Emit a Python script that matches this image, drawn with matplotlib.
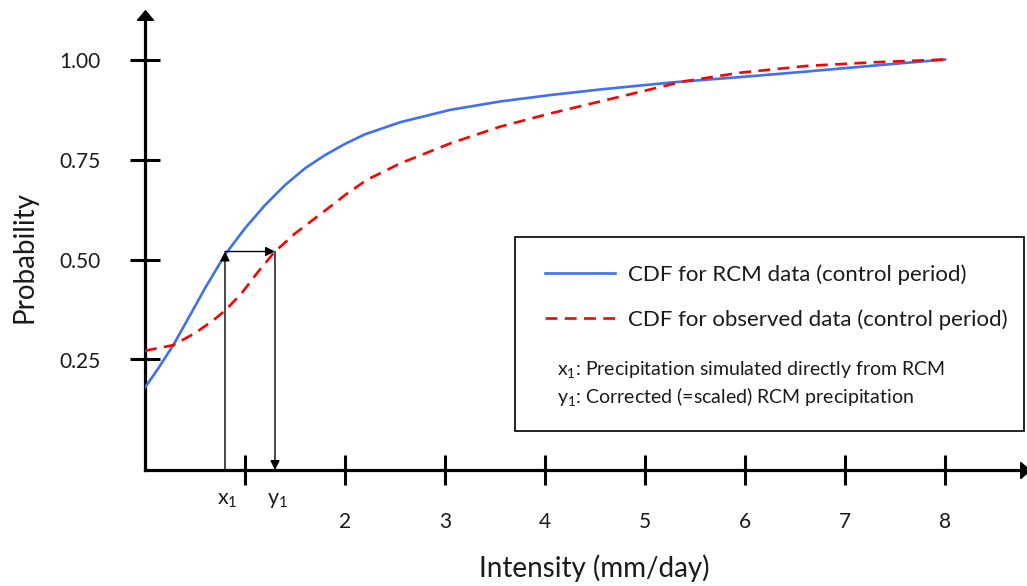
import matplotlib
matplotlib.use("Agg")
import matplotlib.pyplot as plt
from matplotlib.patches import Rectangle
from matplotlib.transforms import blended_transform_factory

plt.rcParams['font.family'] = ['Lato', 'DejaVu Sans']
plt.rcParams['mathtext.fontset'] = 'custom'
plt.rcParams['mathtext.rm'] = 'Lato'
plt.rcParams['mathtext.it'] = 'Lato:italic'
plt.rcParams['mathtext.bf'] = 'Lato:bold'

# ---- data ----
rcm_x = [0.0, 0.133, 0.283, 0.433, 0.6, 0.8, 1.0, 1.2, 1.4, 1.6, 1.8, 2.0, 2.2, 2.55,
         3.05, 3.55, 4.05, 4.55, 5.28, 6.0, 6.62, 7.3, 8.0]
rcm_y = [0.18, 0.228, 0.286, 0.353, 0.428, 0.512, 0.578, 0.636, 0.686, 0.728, 0.761, 0.789, 0.813, 0.843,
         0.874, 0.895, 0.911, 0.925, 0.943, 0.957, 0.97, 0.985, 1.0]

obs_x = [0.0, 0.283, 0.5, 0.667, 0.8, 0.967, 1.133, 1.3, 1.5, 1.7, 1.883, 2.0, 2.217, 2.55,
         3.05, 3.55, 4.05, 4.55, 5.38, 5.95, 6.62, 7.28, 8.0]
obs_y = [0.272, 0.286, 0.316, 0.345, 0.372, 0.416, 0.47, 0.52, 0.565, 0.603, 0.638, 0.661, 0.699, 0.74,
         0.79, 0.832, 0.865, 0.895, 0.945, 0.967, 0.984, 0.993, 1.0]

x1_val = 0.8
y1_val = 1.3
p_val = 0.52

x_ticks = [1, 2, 3, 4, 5, 6, 7, 8]
x_tick_labels = ['', '2', '3', '4', '5', '6', '7', '8']
y_ticks = [0.25, 0.50, 0.75, 1.00]
y_tick_labels = ['0.25', '0.50', '0.75', '1.00']

legend_labels = ['CDF for RCM data (control period)', 'CDF for observed data (control period)']
note_lines = [r'$\mathregular{x_1}$: Precipitation simulated directly from RCM',
              r'$\mathregular{y_1}$: Corrected (=scaled) RCM precipitation']

BLUE = '#3f70f4'
RED = '#ff0000'
TXT = '#1a1a1a'

W, H = 1027, 586
fig = plt.figure(figsize=(W / 100, H / 100), dpi=100)

ax_left, ax_right, ax_bottom, ax_top = 145, 1025, 470, 15
ax = fig.add_axes([ax_left / W, (H - ax_bottom) / H, (ax_right - ax_left) / W, (ax_bottom - ax_top) / H])

ppu_x = 100.0
ppu_y = 400.0
y_one = 59.5
ax.set_xlim(0, (ax_right - ax_left) / ppu_x)
ax.set_ylim(1 - (ax_bottom - y_one) / ppu_y, 1 + (y_one - ax_top) / ppu_y)
ybot = ax.get_ylim()[0]

for s in ['top', 'right']:
    ax.spines[s].set_visible(False)
for s in ['left', 'bottom']:
    ax.spines[s].set_linewidth(2.3)

ax.set_xticks(x_ticks)
ax.set_xticklabels(x_tick_labels)
ax.set_yticks(y_ticks)
ax.set_yticklabels(y_tick_labels)
ax.tick_params(direction='inout', length=21.6, width=2.2, labelsize=15, colors='black')
ax.tick_params(axis='y', pad=21.5)
ax.tick_params(axis='x', pad=19.5)
ax.xaxis.set_tick_params(labelcolor=TXT)
ax.yaxis.set_tick_params(labelcolor=TXT)

# axis arrowheads
up = [(-1, -0.6), (1, -0.6), (0, 0.6), (-1, -0.6)]
right = [(-0.6, -1), (-0.6, 1), (0.6, 0), (-0.6, -1)]
ax.plot([0], [1], marker=up, markersize=11.5, color='black', transform=ax.transAxes, clip_on=False)
ax.plot([1], [0], marker=right, markersize=11.5, color='black', transform=ax.transAxes, clip_on=False)

l_rcm, = ax.plot(rcm_x, rcm_y, color=BLUE, lw=1.9, solid_joinstyle='round', zorder=3)
l_obs, = ax.plot(obs_x, obs_y, color=RED, lw=1.9, dashes=(4.5, 2.8), zorder=3)

aprops = dict(arrowstyle='-|>', color='black', lw=1.0, shrinkA=0, shrinkB=0, mutation_scale=14)
ax.annotate('', xy=(x1_val, p_val), xytext=(x1_val, ybot), arrowprops=aprops, zorder=4)
ax.annotate('', xy=(y1_val, p_val), xytext=(x1_val, p_val), arrowprops=aprops, zorder=4)
ax.annotate('', xy=(y1_val, ybot), xytext=(y1_val, p_val), arrowprops=aprops, zorder=4)

bt = blended_transform_factory(ax.transData, ax.transAxes)
lab_y = -(500 - ax_bottom) / (ax_bottom - ax_top)
ax.text(x1_val + 0.02, lab_y, r'$\mathregular{x_1}$', transform=bt, ha='center', va='center', fontsize=15.5, color=TXT)
ax.text(y1_val + 0.02, lab_y, r'$\mathregular{y_1}$', transform=bt, ha='center', va='center', fontsize=15.5, color=TXT)

fig.text(594 / W, 1 - 568 / H, 'Intensity (mm/day)', ha='center', va='center', fontsize=20, color=TXT)
fig.text(25 / W, 1 - 257 / H, 'Probability', ha='center', va='center', rotation=90, fontsize=20, color=TXT)

# legend box
fig.add_artist(Rectangle((515 / W, (H - 431) / H), 509 / W, 194 / H, transform=fig.transFigure,
                         fill=False, ec='black', lw=1.2))
leg = ax.legend([l_rcm, l_obs], legend_labels, loc='upper left',
                bbox_to_anchor=(545 / W, 1 - 264 / H), bbox_transform=fig.transFigure,
                frameon=False, borderpad=0, borderaxespad=0, handlelength=3.15,
                handletextpad=0.6, labelspacing=1.1, fontsize=16)
for t in leg.get_texts():
    t.set_color(TXT)
fig.text(557 / W, 1 - 370 / H, note_lines[0], ha='left', va='center', fontsize=14, color=TXT)
fig.text(557 / W, 1 - 397 / H, note_lines[1], ha='left', va='center', fontsize=14, color=TXT)

fig.savefig('out.png', dpi=100)
